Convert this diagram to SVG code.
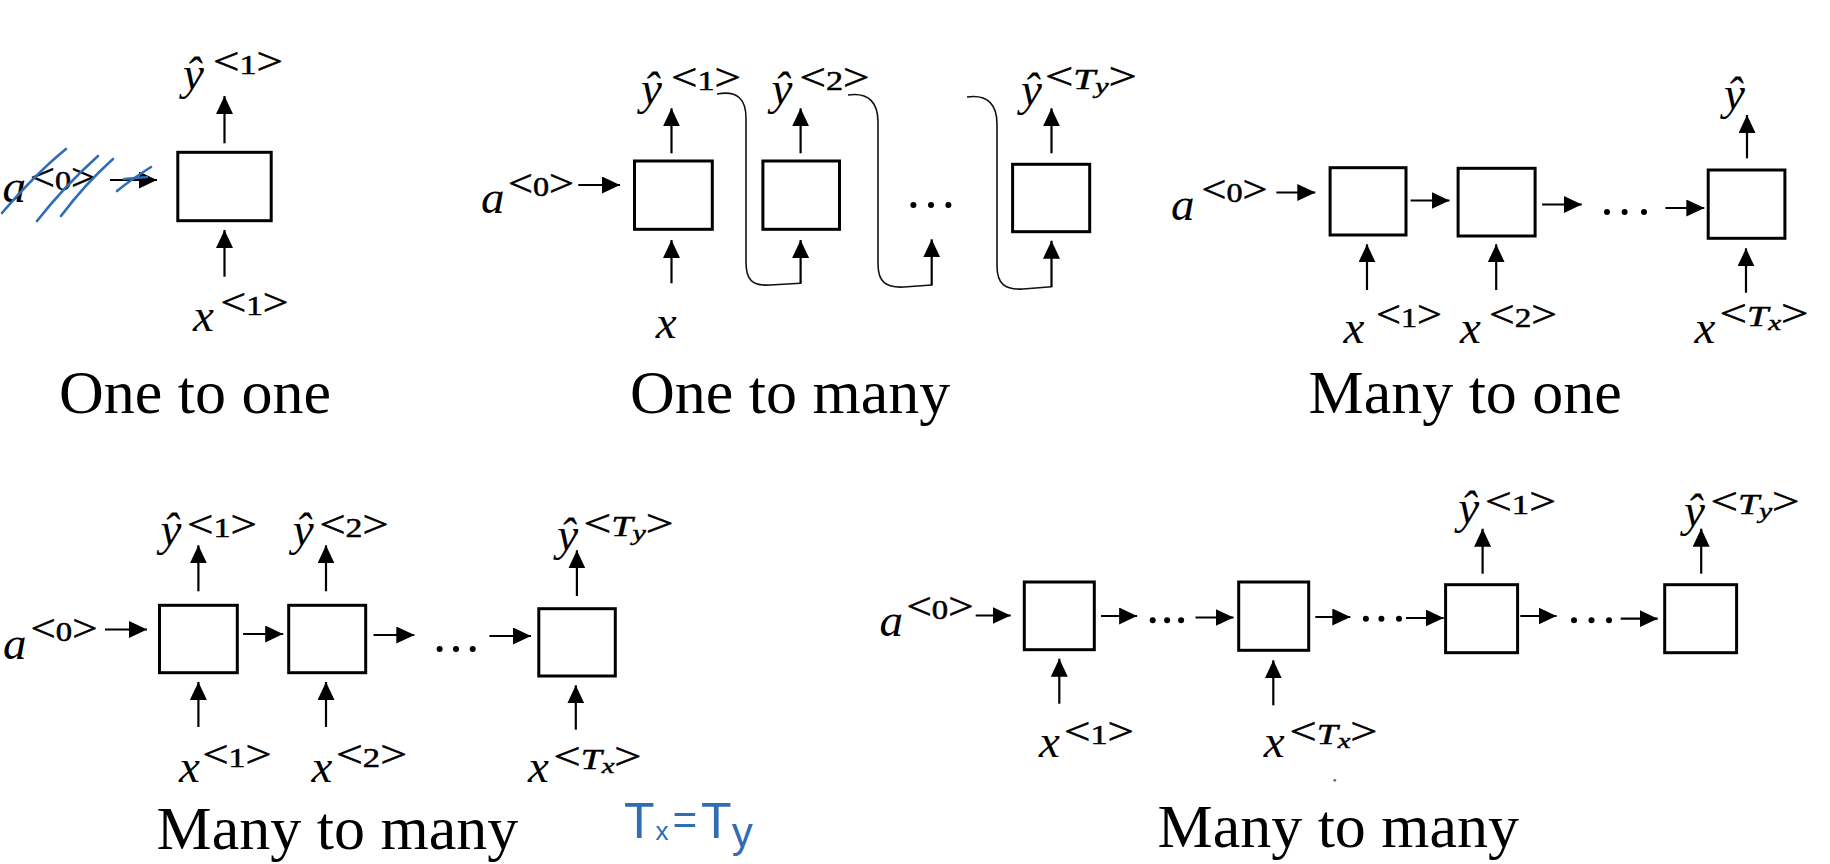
<svg xmlns="http://www.w3.org/2000/svg" width="1830" height="864" viewBox="0 0 1830 864">
<style>
.box{fill:#fff;stroke:#000;stroke-width:3}
.ln{stroke:#000;stroke-width:2.2;fill:none;marker-end:url(#ah)}
.cv{stroke:#111;stroke-width:1.6;fill:none}
.m{font-family:"Liberation Serif",serif;font-style:italic;font-size:47px;fill:#000}
.s{font-family:"Liberation Serif",serif;font-size:27px;fill:#000;stroke:#000;stroke-width:0.5}
.br{font-size:37px;font-style:normal}
.it{font-style:italic;font-size:29px}
.sub{font-style:italic;font-size:22px}
.cap{font-family:"Liberation Serif",serif;font-size:62px;fill:#000}
.blue{stroke:#2f6db5;stroke-width:2.6;fill:none;stroke-linecap:round}
.hand{font-family:"Liberation Sans",sans-serif;fill:#2f6db5}
</style>
<defs>
<marker id="ah" markerUnits="userSpaceOnUse" markerWidth="18" markerHeight="17" refX="18" refY="8.5" orient="auto">
<path d="M0,0 L18,8.5 L0,17 z" fill="#000"/>
</marker>
</defs>
<rect width="1830" height="864" fill="#fff"/>

<g id="connectors">
<!-- panel 1 -->
<line class="ln" x1="110" y1="180" x2="157" y2="180"/>
<line class="ln" x1="224.5" y1="143.3" x2="224.5" y2="96"/>
<line class="ln" x1="224.5" y1="276.7" x2="224.5" y2="230"/>
<!-- panel 2 -->
<line class="ln" x1="578.3" y1="185" x2="620" y2="185"/>
<line class="ln" x1="671.5" y1="153.3" x2="671.5" y2="108.3"/>
<line class="ln" x1="800.6" y1="153.3" x2="800.6" y2="108.3"/>
<line class="ln" x1="1051.5" y1="153.3" x2="1051.5" y2="108.3"/>
<line class="ln" x1="671.5" y1="283.3" x2="671.5" y2="240"/>
<path class="cv" d="M717,94 C738,90 746,100 746,118 L746,262 C746,280 752,286 770,285 L800.6,283.3"/>
<line class="ln" x1="800.6" y1="283.8" x2="800.6" y2="240"/>
<path class="cv" d="M848,95 C870,92 878,104 878,122 L878,264 C878,282 886,288 904,287 L931.7,285"/>
<line class="ln" x1="931.7" y1="285.5" x2="931.7" y2="239.3"/>
<path class="cv" d="M967,97 C989,94 997,106 997,124 L997,266 C997,284 1005,290 1023,289 L1051.5,286.7"/>
<line class="ln" x1="1051.5" y1="287.2" x2="1051.5" y2="240.7"/>
<!-- panel 3 -->
<line class="ln" x1="1276.4" y1="192.5" x2="1315.3" y2="192.5"/>
<line class="ln" x1="1410.6" y1="200.5" x2="1449.5" y2="200.5"/>
<line class="ln" x1="1542.1" y1="204.5" x2="1581.8" y2="204.5"/>
<line class="ln" x1="1665.4" y1="208" x2="1704.3" y2="208"/>
<line class="ln" x1="1747" y1="158.3" x2="1747" y2="115"/>
<line class="ln" x1="1367" y1="290" x2="1367" y2="244.3"/>
<line class="ln" x1="1496.2" y1="290" x2="1496.2" y2="244.3"/>
<line class="ln" x1="1746" y1="292.7" x2="1746" y2="248.3"/>
<!-- panel 4 -->
<line class="ln" x1="105" y1="629.5" x2="147" y2="629.5"/>
<line class="ln" x1="243.1" y1="634" x2="283.2" y2="634"/>
<line class="ln" x1="373.5" y1="635" x2="414.3" y2="635"/>
<line class="ln" x1="489.4" y1="636" x2="531" y2="636"/>
<line class="ln" x1="198.4" y1="591.3" x2="198.4" y2="545.3"/>
<line class="ln" x1="326" y1="591.3" x2="326" y2="545.3"/>
<line class="ln" x1="576.9" y1="596" x2="576.9" y2="550.3"/>
<line class="ln" x1="198.4" y1="727" x2="198.4" y2="682"/>
<line class="ln" x1="326" y1="727" x2="326" y2="682"/>
<line class="ln" x1="575.8" y1="729.7" x2="575.8" y2="685.3"/>
<!-- panel 5 -->
<line class="ln" x1="975.7" y1="615.5" x2="1010.7" y2="615.5"/>
<line class="ln" x1="1101" y1="616" x2="1137.1" y2="616"/>
<line class="ln" x1="1195.5" y1="617.5" x2="1233.6" y2="617.5"/>
<line class="ln" x1="1059.3" y1="703.7" x2="1059.3" y2="658.7"/>
<line class="ln" x1="1273.3" y1="705.3" x2="1273.3" y2="660.3"/>
<line class="ln" x1="1315.3" y1="617" x2="1350.3" y2="617"/>
<line class="ln" x1="1406" y1="618" x2="1443.7" y2="618"/>
<line class="ln" x1="1482.6" y1="573.7" x2="1482.6" y2="528.7"/>
<line class="ln" x1="1520.3" y1="616" x2="1556.5" y2="616"/>
<line class="ln" x1="1620.7" y1="618.7" x2="1657.7" y2="618.7"/>
<line class="ln" x1="1701.2" y1="573.7" x2="1701.2" y2="528.7"/>
</g>

<g id="ellipses" fill="#000">
<circle cx="913.4" cy="205" r="3"/><circle cx="931" cy="205" r="3"/><circle cx="948.4" cy="205" r="3"/>
<circle cx="1607" cy="212" r="3"/><circle cx="1624.6" cy="212" r="3"/><circle cx="1644" cy="212" r="3"/>
<circle cx="439.6" cy="649" r="3"/><circle cx="456" cy="649" r="3"/><circle cx="472.7" cy="649" r="3"/>
<circle cx="1152.7" cy="620.3" r="3"/><circle cx="1167.1" cy="620.3" r="3"/><circle cx="1181.1" cy="620.3" r="3"/>
<circle cx="1365.9" cy="618.7" r="3"/><circle cx="1381.4" cy="618.7" r="3"/><circle cx="1399" cy="618.7" r="3"/>
<circle cx="1574" cy="620.3" r="3"/><circle cx="1591.5" cy="620.3" r="3"/><circle cx="1609" cy="620.3" r="3"/>
<circle cx="1334.8" cy="780.3" r="1.4" fill="#666"/>
</g>

<!-- Panel 1: One to one -->
<g id="p1-cell"><rect class="box" x="177.8" y="152.3" width="93.4" height="68.4"/></g>
<g id="p1-a0"><text class="m" x="2.5" y="201.7">a</text><text class="s" x="30" y="190" textLength="66" lengthAdjust="spacingAndGlyphs"><tspan class="br">&lt;</tspan>0<tspan class="br">&gt;</tspan></text></g>
<g id="p1-y1"><text class="m" x="183" y="89">ŷ</text><text class="s" x="213" y="74" textLength="70" lengthAdjust="spacingAndGlyphs"><tspan class="br">&lt;</tspan>1<tspan class="br">&gt;</tspan></text></g>
<g id="p1-x1"><text class="m" x="193" y="331">x</text><text class="s" x="220.5" y="315" textLength="68" lengthAdjust="spacingAndGlyphs"><tspan class="br">&lt;</tspan>1<tspan class="br">&gt;</tspan></text></g>
<g id="p1-scribble">
<path class="blue" d="M2,213 C20,192 45,166 66,149"/>
<path class="blue" d="M37,221 C55,198 78,174 98,156"/>
<path class="blue" d="M61,216 C76,196 94,176 113,159"/>
<path class="blue" d="M117,191 C128,182 140,174 151,167"/>
<path class="blue" d="M124,179 L147,177"/>
</g>
<g id="p1-caption"><text class="cap" x="59" y="413.3">One to one</text></g>

<!-- Panel 2: One to many -->
<g id="p2-cell1"><rect class="box" x="634.5" y="161" width="77.8" height="68.3"/></g>
<g id="p2-cell2"><rect class="box" x="762.9" y="161" width="76.6" height="68.3"/></g>
<g id="p2-cell3"><rect class="box" x="1012.6" y="164.3" width="77.1" height="67.4"/></g>
<g id="p2-a0"><text class="m" x="481" y="213.3">a</text><text class="s" x="508" y="195.5" textLength="66" lengthAdjust="spacingAndGlyphs"><tspan class="br">&lt;</tspan>0<tspan class="br">&gt;</tspan></text></g>
<g id="p2-x"><text class="m" x="655.7" y="338">x</text></g>
<g id="p2-y1"><text class="m" x="641" y="104">ŷ</text><text class="s" x="671" y="90" textLength="70" lengthAdjust="spacingAndGlyphs"><tspan class="br">&lt;</tspan>1<tspan class="br">&gt;</tspan></text></g>
<g id="p2-y2"><text class="m" x="771.5" y="104">ŷ</text><text class="s" x="799.5" y="90" textLength="70" lengthAdjust="spacingAndGlyphs"><tspan class="br">&lt;</tspan>2<tspan class="br">&gt;</tspan></text></g>
<g id="p2-yT"><text class="m" x="1021" y="105">ŷ</text><text class="s" x="1045" y="89" textLength="92" lengthAdjust="spacingAndGlyphs"><tspan class="br">&lt;</tspan><tspan class="it">T</tspan><tspan class="sub" dy="4">y</tspan><tspan class="br" dy="-4">&gt;</tspan></text></g>
<g id="p2-caption"><text class="cap" x="630" y="413.3">One to many</text></g>

<!-- Panel 3: Many to one -->
<g id="p3-cell1"><rect class="box" x="1330.1" y="167.7" width="75.9" height="67.3"/></g>
<g id="p3-cell2"><rect class="box" x="1458.1" y="168.3" width="77" height="67.7"/></g>
<g id="p3-cell3"><rect class="box" x="1708.2" y="170" width="76.7" height="68.3"/></g>
<g id="p3-a0"><text class="m" x="1171" y="220">a</text><text class="s" x="1201.5" y="201.5" textLength="66" lengthAdjust="spacingAndGlyphs"><tspan class="br">&lt;</tspan>0<tspan class="br">&gt;</tspan></text></g>
<g id="p3-y"><text class="m" x="1724" y="109">ŷ</text></g>
<g id="p3-x1"><text class="m" x="1343.5" y="343.3">x</text><text class="s" x="1376" y="326.5" textLength="66" lengthAdjust="spacingAndGlyphs"><tspan class="br">&lt;</tspan>1<tspan class="br">&gt;</tspan></text></g>
<g id="p3-x2"><text class="m" x="1460" y="343.3">x</text><text class="s" x="1489" y="326.5" textLength="68" lengthAdjust="spacingAndGlyphs"><tspan class="br">&lt;</tspan>2<tspan class="br">&gt;</tspan></text></g>
<g id="p3-xT"><text class="m" x="1694.5" y="343.3">x</text><text class="s" x="1719.5" y="325.5" textLength="89" lengthAdjust="spacingAndGlyphs"><tspan class="br">&lt;</tspan><tspan class="it">T</tspan><tspan class="sub" dy="4">x</tspan><tspan class="br" dy="-4">&gt;</tspan></text></g>
<g id="p3-caption"><text class="cap" x="1308.5" y="413.3">Many to one</text></g>

<!-- Panel 4: Many to many (Tx = Ty) -->
<g id="p4-cell1"><rect class="box" x="159.5" y="605.3" width="77.8" height="67.4"/></g>
<g id="p4-cell2"><rect class="box" x="288.7" y="605.3" width="77" height="67.4"/></g>
<g id="p4-cell3"><rect class="box" x="538.8" y="608.7" width="76.5" height="67.3"/></g>
<g id="p4-a0"><text class="m" x="3" y="659">a</text><text class="s" x="30.5" y="640.5" textLength="67" lengthAdjust="spacingAndGlyphs"><tspan class="br">&lt;</tspan>0<tspan class="br">&gt;</tspan></text></g>
<g id="p4-y1"><text class="m" x="160.4" y="545">ŷ</text><text class="s" x="187" y="537" textLength="70" lengthAdjust="spacingAndGlyphs"><tspan class="br">&lt;</tspan>1<tspan class="br">&gt;</tspan></text></g>
<g id="p4-y2"><text class="m" x="292.7" y="545">ŷ</text><text class="s" x="319.5" y="537" textLength="69" lengthAdjust="spacingAndGlyphs"><tspan class="br">&lt;</tspan>2<tspan class="br">&gt;</tspan></text></g>
<g id="p4-yT"><text class="m" x="557.3" y="550">ŷ</text><text class="s" x="583.5" y="535.5" textLength="90" lengthAdjust="spacingAndGlyphs"><tspan class="br">&lt;</tspan><tspan class="it">T</tspan><tspan class="sub" dy="4">y</tspan><tspan class="br" dy="-4">&gt;</tspan></text></g>
<g id="p4-x1"><text class="m" x="179" y="781.7">x</text><text class="s" x="202.5" y="767" textLength="69" lengthAdjust="spacingAndGlyphs"><tspan class="br">&lt;</tspan>1<tspan class="br">&gt;</tspan></text></g>
<g id="p4-x2"><text class="m" x="311.5" y="781.7">x</text><text class="s" x="336" y="767" textLength="71" lengthAdjust="spacingAndGlyphs"><tspan class="br">&lt;</tspan>2<tspan class="br">&gt;</tspan></text></g>
<g id="p4-xT"><text class="m" x="528" y="782">x</text><text class="s" x="553.5" y="768.5" textLength="88" lengthAdjust="spacingAndGlyphs"><tspan class="br">&lt;</tspan><tspan class="it">T</tspan><tspan class="sub" dy="4">x</tspan><tspan class="br" dy="-4">&gt;</tspan></text></g>
<g id="p4-caption"><text class="cap" x="156.6" y="848.7">Many to many</text></g>
<g id="p4-note"><text class="hand" x="624" y="838" font-size="50">T<tspan font-size="26" dx="1" dy="2">x</tspan><tspan font-size="42" dx="4" dy="-6">=</tspan><tspan font-size="50" dx="4" dy="4">T</tspan><tspan font-size="42" dx="0" dy="9">y</tspan></text></g>

<!-- Panel 5: Many to many (encoder-decoder) -->
<g id="p5-cell1"><rect class="box" x="1024.3" y="582" width="70" height="67.7"/></g>
<g id="p5-cell2"><rect class="box" x="1238.7" y="582" width="70" height="68.3"/></g>
<g id="p5-cell3"><rect class="box" x="1445.6" y="584.7" width="72" height="68"/></g>
<g id="p5-cell4"><rect class="box" x="1664.7" y="584.7" width="71.9" height="68"/></g>
<g id="p5-a0"><text class="m" x="879.4" y="635.5">a</text><text class="s" x="906.5" y="619" textLength="67" lengthAdjust="spacingAndGlyphs"><tspan class="br">&lt;</tspan>0<tspan class="br">&gt;</tspan></text></g>
<g id="p5-x1"><text class="m" x="1039" y="757">x</text><text class="s" x="1064" y="743.5" textLength="70" lengthAdjust="spacingAndGlyphs"><tspan class="br">&lt;</tspan>1<tspan class="br">&gt;</tspan></text></g>
<g id="p5-xT"><text class="m" x="1263.7" y="757">x</text><text class="s" x="1289.5" y="743.5" textLength="88" lengthAdjust="spacingAndGlyphs"><tspan class="br">&lt;</tspan><tspan class="it">T</tspan><tspan class="sub" dy="4">x</tspan><tspan class="br" dy="-4">&gt;</tspan></text></g>
<g id="p5-y1"><text class="m" x="1458.3" y="523">ŷ</text><text class="s" x="1485" y="513.5" textLength="71" lengthAdjust="spacingAndGlyphs"><tspan class="br">&lt;</tspan>1<tspan class="br">&gt;</tspan></text></g>
<g id="p5-yT"><text class="m" x="1684" y="526">ŷ</text><text class="s" x="1710.5" y="513.5" textLength="89" lengthAdjust="spacingAndGlyphs"><tspan class="br">&lt;</tspan><tspan class="it">T</tspan><tspan class="sub" dy="4">y</tspan><tspan class="br" dy="-4">&gt;</tspan></text></g>
<g id="p5-caption"><text class="cap" x="1157.5" y="847">Many to many</text></g>
</svg>
